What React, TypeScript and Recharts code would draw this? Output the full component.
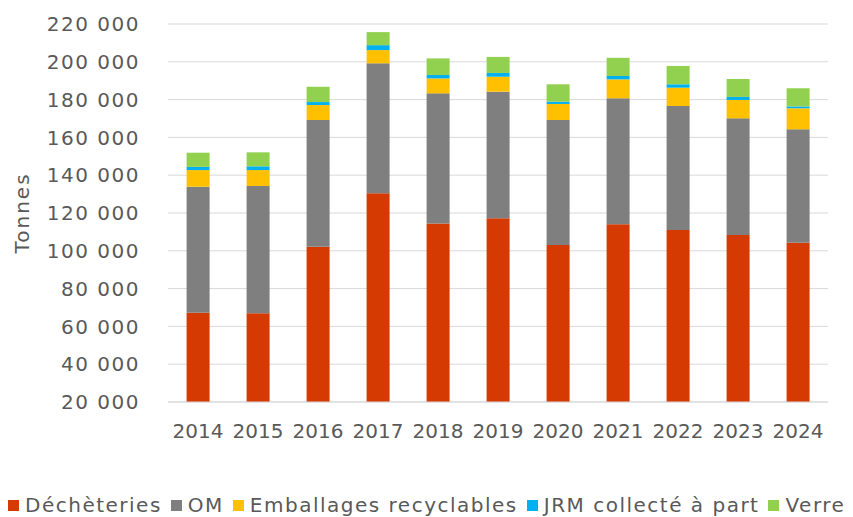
import React from 'react';
import { BarChart, Bar, XAxis, YAxis, CartesianGrid, Legend } from 'recharts';

const years = ['2014', '2015', '2016', '2017', '2018', '2019', '2020', '2021', '2022', '2023', '2024'];
const decheteries = [67200, 66900, 102200, 130400, 114500, 117200, 103100, 114000, 111000, 108400, 104300];
const om = [66700, 67400, 67000, 68800, 68800, 67000, 66100, 66700, 65600, 61700, 60000];
const emballages = [8800, 8400, 7900, 7000, 7900, 7900, 8500, 10000, 9700, 9700, 11100];
const jrm = [1700, 2000, 1600, 2600, 1800, 2000, 1200, 1800, 1800, 1600, 1000];
const verre = [7500, 7400, 8100, 6900, 8800, 8500, 9200, 9600, 9700, 9500, 9600];
const yTicks = [20000, 40000, 60000, 80000, 100000, 120000, 140000, 160000, 180000, 200000, 220000];

const series = [
  { key: 'dech', name: 'Déchèteries', color: '#D43A02', values: decheteries },
  { key: 'om', name: 'OM', color: '#7F7F7F', values: om },
  { key: 'emb', name: 'Emballages recyclables', color: '#FFC000', values: emballages },
  { key: 'jrm', name: 'JRM collecté à part', color: '#00B0F0', values: jrm },
  { key: 'verre', name: 'Verre', color: '#92D050', values: verre },
];

const data = years.map((y, i) => {
  const row: Record<string, string | number> = { year: y };
  series.forEach((s) => {
    row[s.key] = s.values[i];
  });
  return row;
});

const FONT = '"DejaVu Sans", sans-serif';
const TEXT = '#595959';

const fmt = (v: number) => {
  const s = String(Math.round(v));
  return s.replace(/\B(?=(\d{3})+(?!\d))/g, ' ');
};

const renderLegend = () => (
  <div style={{ display: 'flex', whiteSpace: 'nowrap', fontFamily: FONT, fontSize: 20, letterSpacing: 1.5, color: TEXT, lineHeight: '24px' }}>
    {series.map((s) => (
      <span key={s.key} style={{ display: 'inline-flex', alignItems: 'center', marginRight: 9 }}>
        <span style={{ display: 'inline-block', width: 11, height: 11, background: s.color, marginRight: 6 }} />
        {s.name}
      </span>
    ))}
  </div>
);

const TonnesLabel = (props: any) => {
  const vb = props.viewBox || { x: 0, y: 0, width: 0, height: 0 };
  const cx = vb.x + 22;
  const cy = vb.y + vb.height / 2;
  return (
    <text
      x={cx}
      y={cy}
      transform={`rotate(-90, ${cx}, ${cy})`}
      textAnchor="middle"
      dominantBaseline="central"
      fill={TEXT}
      fontFamily={FONT}
      fontSize={20}
      letterSpacing={2}
    >
      Tonnes
    </text>
  );
};

export default function App() {
  return (
    <div style={{ position: 'absolute', left: 0, top: 0, width: 853, height: 517, background: '#fff', overflow: 'hidden' }}>
      <BarChart
        width={853}
        height={517}
        data={data}
        margin={{ top: 24, right: 25, bottom: 0, left: 0 }}
        barCategoryGap="31%"
      >
        <CartesianGrid vertical={false} stroke="#D9D9D9" />
        <XAxis
          dataKey="year"
          axisLine={{ stroke: '#D9D9D9' }}
          tickLine={false}
          tickMargin={16}
          height={91}
          interval={0}
          tick={{ fill: TEXT, fontFamily: FONT, fontSize: 20 }}
        />
        <YAxis
          domain={[20000, 220000]}
          ticks={yTicks}
          allowDataOverflow
          width={168}
          axisLine={false}
          tickLine={false}
          tickMargin={22}
          tickFormatter={fmt}
          tick={{ fill: TEXT, fontFamily: FONT, fontSize: 20, letterSpacing: 1.5 }}
          label={<TonnesLabel />}
        />
        <Legend
          verticalAlign="bottom"
          align="left"
          content={renderLegend}
          wrapperStyle={{ left: 8, width: 845, bottom: 0 }}
        />
        {series.map((s) => (
          <Bar key={s.key} dataKey={s.key} name={s.name} stackId="a" fill={s.color} isAnimationActive={false} />
        ))}
      </BarChart>
    </div>
  );
}
